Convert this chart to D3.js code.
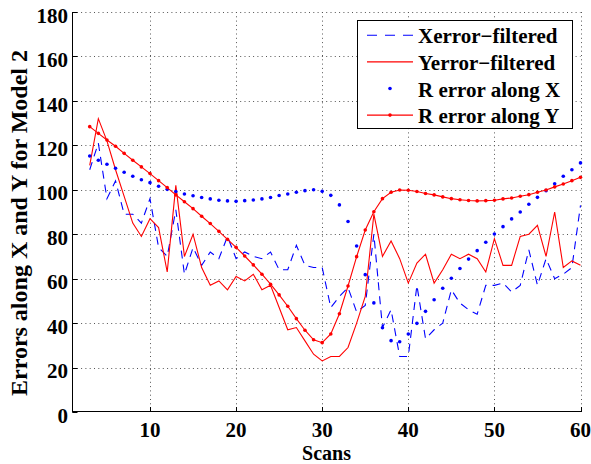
<!DOCTYPE html>
<html lang="en">
<head>
    <meta charset="UTF-8">
    <title>Errors along X and Y for Model 2</title>
    <script src="https://d3js.org/d3.v7.min.js"></script>
    <style>
        body {
            margin: 0;
            background: #fff;
        }
        svg text {
            font-family: "Liberation Serif", "Times New Roman", serif;
            font-weight: bold;
            fill: #000;
        }
        .grid line {
            stroke: #555;
            stroke-width: 1px;
            stroke-dasharray: 1, 3.3;
        }
    </style>
</head>
<body>
    <svg id="chart"></svg>

    <script>
        // Data
        const scans = [3, 4, 5, 6, 7, 8, 9, 10, 11, 12, 13, 14, 15, 16, 17, 18, 19, 20,
            21, 22, 23, 24, 25, 26, 27, 28, 29, 30, 31, 32, 33, 34, 35, 36, 37, 38, 39, 40,
            41, 42, 43, 44, 45, 46, 47, 48, 49, 50, 51, 52, 53, 54, 55, 56, 57, 58, 59, 60];

        const xErrFiltered = [109, 121, 96, 104, 89, 89, 85, 96, 74, 70, 91, 62, 74, 66, 72, 69, 79, 69,
            72, 70, 69, 72, 64, 64, 75, 66, 65, 65, 47, 52, 56, 45, 48, 80, 38, 46, 25, 25,
            57, 33, 37, 40, 55, 49, 46, 44, 57, 57, 58, 54, 57, 73, 57, 69, 60, 62, 65, 93];

        const yErrFiltered = [111, 132, 122, 109, 97, 85, 79, 87, 83, 63, 102, 70, 80, 65, 57, 59, 55, 61,
            59, 62, 55, 57, 47, 37, 38, 32, 26, 23, 25, 25, 29, 40, 52, 89, 70, 77, 69, 58,
            67, 71, 58, 64, 71, 69, 71, 69, 63, 78, 66, 66, 79, 80, 84, 70, 90, 65, 68, 66];

        const rErrX = [115.2, 113.3, 111.5, 109.7, 107.9, 106.1, 104.5, 103.2, 101.6, 100.2, 99.2, 98.1,
            97.3, 96.5, 95.9, 95.3, 95.0, 94.8, 95.1, 95.4, 95.9, 96.5, 97.4, 98.1, 98.9, 99.6, 100.0,
            99.3, 97.5, 93.2, 85.7, 74.7, 61.8, 49.1, 37.9, 32.1, 31.6, 35.1, 39.9, 45.3, 50.5, 55.7,
            60.2, 64.6, 68.8, 72.6, 76.4, 80.1, 83.4, 86.9, 90.0, 93.5, 96.6, 99.6, 102.7, 106.1, 109.0, 112.1];

        const rErrY = [128.4, 125.4, 122.4, 119.6, 116.4, 113.3, 110.3, 107.3, 104.1, 101.0, 97.7, 94.6,
            91.5, 88.1, 84.8, 81.3, 77.7, 74.1, 70.2, 66.2, 62.0, 57.5, 52.7, 47.6, 42.0, 36.8, 32.5,
            31.2, 35.1, 44.2, 56.7, 69.9, 81.9, 90.1, 96.0, 98.9, 99.9, 99.8, 99.2, 98.3, 97.7, 96.8,
            96.0, 95.5, 95.2, 95.0, 95.1, 95.3, 95.9, 96.3, 97.1, 97.8, 98.9, 99.9, 101.3, 102.6, 104.1, 105.6];

        const xTicks = [10, 20, 30, 40, 50, 60];
        const yTicks = [0, 20, 40, 60, 80, 100, 120, 140, 160, 180];

        const legendLabels = ["Xerror\u2212filtered", "Yerror\u2212filtered", "R error along X", "R error along Y"];

        // Layout
        const W = 591, H = 464;
        const plot = { left: 72.5, right: 580.5, top: 12, bottom: 412 };

        const svg = d3.select("#chart")
            .attr("width", W)
            .attr("height", H);

        const x = d3.scaleLinear().domain([1, 60]).range([plot.left, plot.right]);
        const y = d3.scaleLinear().domain([0, 180]).range([plot.bottom, plot.top]);

        // Grid (dotted)
        const grid = svg.append("g").attr("class", "grid");
        grid.selectAll(".gx")
            .data(xTicks)
            .enter()
            .append("line")
            .attr("x1", d => Math.round(x(d)) + 0.5)
            .attr("x2", d => Math.round(x(d)) + 0.5)
            .attr("y1", plot.top)
            .attr("y2", plot.bottom);
        grid.selectAll(".gy")
            .data(yTicks.filter(d => d > 0))
            .enter()
            .append("line")
            .attr("x1", plot.left)
            .attr("x2", plot.right)
            .attr("y1", d => Math.round(y(d)) + 0.5)
            .attr("y2", d => Math.round(y(d)) + 0.5);

        // Series
        const pts = vals => scans.map((s, i) => [s, vals[i]]);
        const line = d3.line().x(d => x(d[0])).y(d => y(d[1]));

        svg.append("path")
            .attr("d", line(pts(xErrFiltered)))
            .attr("fill", "none")
            .attr("stroke", "#0000ff")
            .attr("stroke-width", 1.1)
            .attr("stroke-dasharray", "8,6");

        svg.append("path")
            .attr("d", line(pts(yErrFiltered)))
            .attr("fill", "none")
            .attr("stroke", "#ff0000")
            .attr("stroke-width", 1.1);

        svg.append("g")
            .selectAll("circle")
            .data(pts(rErrX))
            .enter()
            .append("circle")
            .attr("cx", d => x(d[0]))
            .attr("cy", d => y(d[1]))
            .attr("r", 1.8)
            .attr("fill", "#0000ff");

        svg.append("path")
            .attr("d", line(pts(rErrY)))
            .attr("fill", "none")
            .attr("stroke", "#ff0000")
            .attr("stroke-width", 1.1);

        svg.append("g")
            .selectAll("circle")
            .data(pts(rErrY))
            .enter()
            .append("circle")
            .attr("cx", d => x(d[0]))
            .attr("cy", d => y(d[1]))
            .attr("r", 1.8)
            .attr("fill", "#ff0000");

        // Axes (left + bottom only, matlab style)
        const axis = svg.append("g").attr("stroke", "#000").attr("stroke-width", 1);
        axis.append("line")
            .attr("x1", plot.left).attr("x2", plot.left)
            .attr("y1", plot.top).attr("y2", plot.bottom + 0.5);
        axis.append("line")
            .attr("x1", plot.left).attr("x2", plot.right + 0.5)
            .attr("y1", plot.bottom - 0.5).attr("y2", plot.bottom - 0.5);
        axis.selectAll(".ty")
            .data(yTicks)
            .enter()
            .append("line")
            .attr("x1", plot.left).attr("x2", plot.left + 5)
            .attr("y1", d => Math.round(y(d)) + 0.5)
            .attr("y2", d => Math.round(y(d)) + 0.5);
        axis.selectAll(".tx")
            .data(xTicks)
            .enter()
            .append("line")
            .attr("x1", d => Math.round(x(d)) + 0.5)
            .attr("x2", d => Math.round(x(d)) + 0.5)
            .attr("y1", plot.bottom)
            .attr("y2", plot.bottom - 5);

        svg.append("g")
            .selectAll("text")
            .data(yTicks)
            .enter()
            .append("text")
            .attr("x", plot.left - 4.5)
            .attr("y", d => y(d) + 10.7)
            .attr("text-anchor", "end")
            .style("font-size", "21px")
            .text(d => d);

        svg.append("g")
            .selectAll("text")
            .data(xTicks)
            .enter()
            .append("text")
            .attr("x", d => x(d))
            .attr("y", 436.5)
            .attr("text-anchor", "middle")
            .style("font-size", "21px")
            .text(d => d);

        // Axis labels
        svg.append("text")
            .attr("x", (plot.left + plot.right) / 2)
            .attr("y", 459.5)
            .attr("text-anchor", "middle")
            .style("font-size", "20px")
            .text("Scans");

        svg.append("text")
            .attr("transform", "translate(26.5,223) rotate(-90)")
            .attr("text-anchor", "middle")
            .style("font-size", "24px")
            .text("Errors along X and Y for Model 2");

        // Legend
        const lg = svg.append("g");
        lg.append("rect")
            .attr("x", 357.5).attr("y", 20.5)
            .attr("width", 215).attr("height", 108)
            .attr("fill", "#fff")
            .attr("stroke", "#000")
            .attr("stroke-width", 1);

        const rowY = i => 35.3 + i * 26.6;
        const sx0 = 367, sx1 = 413;

        lg.append("line")
            .attr("x1", sx0).attr("x2", sx1)
            .attr("y1", rowY(0)).attr("y2", rowY(0))
            .attr("stroke", "#0000ff").attr("stroke-width", 1.1)
            .attr("stroke-dasharray", "10,8");
        lg.append("line")
            .attr("x1", sx0).attr("x2", sx1)
            .attr("y1", rowY(1)).attr("y2", rowY(1))
            .attr("stroke", "#ff0000").attr("stroke-width", 1.1);
        lg.append("circle")
            .attr("cx", (sx0 + sx1) / 2).attr("cy", rowY(2))
            .attr("r", 1.8).attr("fill", "#0000ff");
        lg.append("line")
            .attr("x1", sx0).attr("x2", sx1)
            .attr("y1", rowY(3)).attr("y2", rowY(3))
            .attr("stroke", "#ff0000").attr("stroke-width", 1.1);
        lg.append("circle")
            .attr("cx", (sx0 + sx1) / 2).attr("cy", rowY(3))
            .attr("r", 1.8).attr("fill", "#ff0000");

        lg.selectAll(".lt")
            .data(legendLabels)
            .enter()
            .append("text")
            .attr("x", 418)
            .attr("y", (d, i) => rowY(i) + 8)
            .style("font-size", "21px")
            .text(d => d);
    </script>
</body>
</html>
